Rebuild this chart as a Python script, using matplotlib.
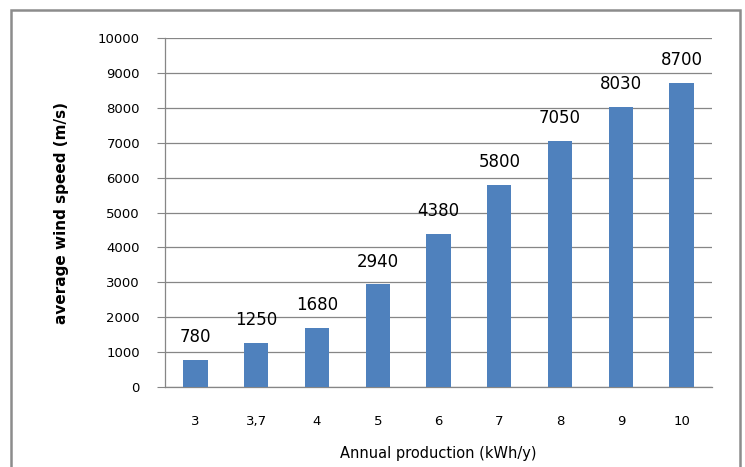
import matplotlib
matplotlib.use('Agg')
import matplotlib.pyplot as plt
from matplotlib.patches import Rectangle

# values
categories = ['3', '3,7', '4', '5', '6', '7', '8', '9', '10']
production = [780, 1250, 1680, 2940, 4380, 5800, 7050, 8030, 8700]
y_ticks = list(range(0, 10001, 1000))

BAR_COLOR = '#4f81bd'
GRID_COLOR = '#868686'

fig = plt.figure(figsize=(7.45, 4.67), dpi=100)
ax = fig.add_axes([165/745, 1 - 387/467, (712 - 165)/745, (387 - 38)/467])

x = list(range(len(categories)))
bars = ax.bar(x, production, width=0.4, color=BAR_COLOR, zorder=3)

for xi, v in zip(x, production):
    ax.annotate(str(v), (xi, v), xytext=(0, 10), textcoords='offset points',
                ha='center', va='bottom', fontsize=12, color='black')

ax.set_xlim(-0.5, len(categories) - 0.5)
ax.set_ylim(0, 10000)
ax.set_yticks(y_ticks)
ax.set_xticks(x)
ax.set_xticklabels(categories)
ax.yaxis.grid(True, color=GRID_COLOR, linewidth=0.9, zorder=0)
ax.tick_params(axis='y', length=6, color=GRID_COLOR, labelsize=9.5, pad=12)
ax.tick_params(axis='x', length=0, labelsize=9.5, pad=20)

for s in ['top', 'right']:
    ax.spines[s].set_visible(False)
for s in ['left', 'bottom']:
    ax.spines[s].set_color(GRID_COLOR)
    ax.spines[s].set_linewidth(0.9)

ax.set_xlabel('Annual production (kWh/y)', fontsize=10.5, labelpad=13)
ax.set_ylabel('average wind speed (m/s)', fontsize=11, fontweight='bold', labelpad=21)

# outer chart frame, its bottom edge is cut off by the image
frame = Rectangle((11/745, -0.05), (740 - 11)/745, 1.05 - 10/467,
                  transform=fig.transFigure, fill=False, edgecolor='#8c8c8c', linewidth=1.8)
fig.patches.append(frame)

fig.savefig('out.png', dpi=100)
